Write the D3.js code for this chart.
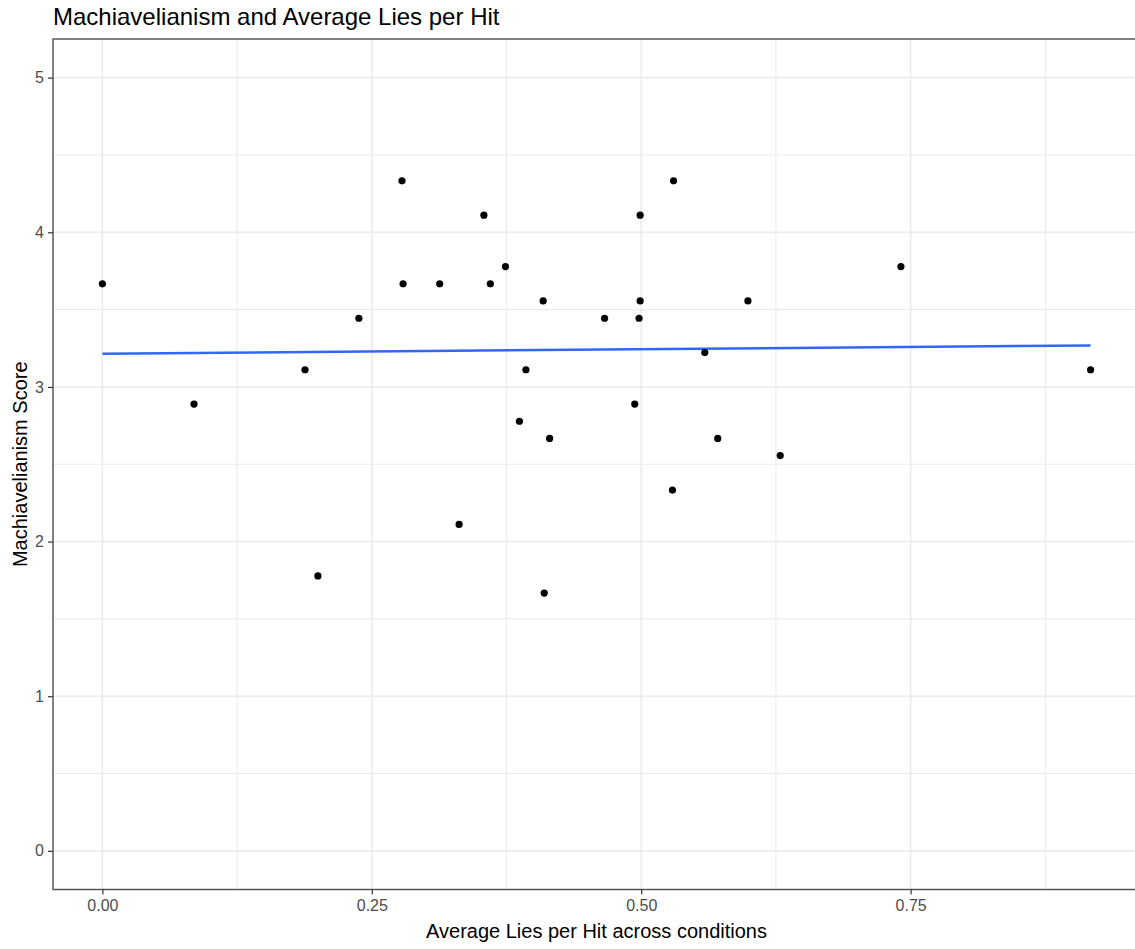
<!DOCTYPE html>
<html>
<head>
<meta charset="utf-8">
<script src="https://cdn.jsdelivr.net/npm/d3@7"></script>
<style>
  body { margin: 0; background: #fff; }
  svg { display: block; font-family: 'Liberation Sans', Arial, sans-serif; }
</style>
</head>
<body>
<svg id="chart" width="1135" height="949"></svg>
<script>
// average lies per hit (x) and Machiavelianism score (y), one entry per participant
var liesPerHit = [
  0.000, 0.085, 0.188, 0.200, 0.238, 0.278, 0.279, 0.313, 0.331, 0.354,
  0.360, 0.374, 0.387, 0.393, 0.409, 0.410, 0.415, 0.466, 0.494, 0.498,
  0.499, 0.499, 0.529, 0.530, 0.559, 0.571, 0.599, 0.629, 0.741, 0.917
]
var machScore = [
  3.667, 2.889, 3.111, 1.778, 3.444, 4.333, 3.667, 3.667, 2.111, 4.111,
  3.667, 3.778, 2.778, 3.111, 3.556, 1.667, 2.667, 3.444, 2.889, 3.444,
  3.556, 4.111, 2.333, 4.333, 3.222, 2.667, 3.556, 2.556, 3.778, 3.111
]

// linear fit (geom_smooth, method = lm)
var fitX = [0, 0.917]
var fitY = [3.215, 3.268]

var xTicks = [0, 0.25, 0.5, 0.75]
var xMinor = [0.125, 0.375, 0.625, 0.875]
var yTicks = [0, 1, 2, 3, 4, 5]
var yMinor = [0.5, 1.5, 2.5, 3.5, 4.5]

var points = liesPerHit.map((d, i) => ({ x: d, y: machScore[i] }))
var fit = fitX.map((d, i) => ({ x: d, y: fitY[i] }))

var panel = { left: 53, right: 1140, top: 39, bottom: 889.5 }

var svg = d3.select('#chart')

var xExt = d3.extent(liesPerHit)
var xPad = (xExt[1] - xExt[0]) * 0.05
var x = d3.scaleLinear()
    .domain([xExt[0] - xPad, xExt[1] + xPad])
    .range([panel.left, panel.right])

// y limits were set to 0..5, ggplot adds 5% on each side
var y = d3.scaleLinear()
    .domain([-0.25, 5.25])
    .range([panel.bottom, panel.top])

var grid = svg.append('g').attr('class', 'grid')

grid.selectAll('.minor-x')
    .data(xMinor)
  .enter().append('line')
    .attr('x1', d => x(d)).attr('x2', d => x(d))
    .attr('y1', panel.top).attr('y2', panel.bottom)
    .attr('stroke', '#ebebeb').attr('stroke-width', 1.1)

grid.selectAll('.minor-y')
    .data(yMinor)
  .enter().append('line')
    .attr('y1', d => y(d)).attr('y2', d => y(d))
    .attr('x1', panel.left).attr('x2', panel.right)
    .attr('stroke', '#ebebeb').attr('stroke-width', 1.1)

grid.selectAll('.major-x')
    .data(xTicks)
  .enter().append('line')
    .attr('x1', d => x(d)).attr('x2', d => x(d))
    .attr('y1', panel.top).attr('y2', panel.bottom)
    .attr('stroke', '#ebebeb').attr('stroke-width', 1.6)

grid.selectAll('.major-y')
    .data(yTicks)
  .enter().append('line')
    .attr('y1', d => y(d)).attr('y2', d => y(d))
    .attr('x1', panel.left).attr('x2', panel.right)
    .attr('stroke', '#ebebeb').attr('stroke-width', 1.6)

// smooth line
svg.append('path')
    .datum(fit)
    .attr('fill', 'none')
    .attr('stroke', '#3366ff')
    .attr('stroke-width', 2.5)
    .attr('d', d3.line().x(d => x(d.x)).y(d => y(d.y)))

svg.selectAll('.dot')
    .data(points)
  .enter().append('circle')
    .attr('class', 'dot')
    .attr('cx', d => x(d.x))
    .attr('cy', d => y(d.y))
    .attr('r', 3.6)
    .attr('fill', '#000')

// panel border
svg.append('rect')
    .attr('x', panel.left).attr('y', panel.top)
    .attr('width', panel.right - panel.left)
    .attr('height', panel.bottom - panel.top)
    .attr('fill', 'none')
    .attr('stroke', '#4d4d4d')
    .attr('stroke-width', 1.4)

var xAxis = d3.axisBottom(x)
    .tickValues(xTicks)
    .tickFormat(d3.format('.2f'))
    .tickSizeInner(5)
    .tickSizeOuter(0)
    .tickPadding(5)

var yAxis = d3.axisLeft(y)
    .tickValues(yTicks)
    .tickFormat(d3.format('d'))
    .tickSizeInner(5)
    .tickSizeOuter(0)
    .tickPadding(4)

var gx = svg.append('g')
    .attr('transform', 'translate(0,' + panel.bottom + ')')
    .call(xAxis)
gx.select('.domain').remove()

var gy = svg.append('g')
    .attr('transform', 'translate(' + panel.left + ',0)')
    .call(yAxis)
gy.select('.domain').remove()

svg.selectAll('.tick line').attr('stroke', '#333').attr('stroke-width', 1.2)
svg.selectAll('.tick text')
    .attr('fill', '#4d4d4d')
    .style('font-size', '16px')
    .style('font-family', "'Liberation Sans', Arial, sans-serif")

svg.append('text')
    .attr('x', panel.left)
    .attr('y', 25)
    .attr('fill', '#000')
    .style('font-size', '24px')
    .text('Machiavelianism and Average Lies per Hit')

svg.append('text')
    .attr('x', (panel.left + panel.right) / 2)
    .attr('y', 938)
    .attr('text-anchor', 'middle')
    .attr('fill', '#000')
    .style('font-size', '20px')
    .text('Average Lies per Hit across conditions')

svg.append('text')
    .attr('transform', 'translate(27,' + (panel.top + panel.bottom) / 2 + ') rotate(-90)')
    .attr('text-anchor', 'middle')
    .attr('fill', '#000')
    .style('font-size', '20px')
    .text('Machiavelianism Score')
</script>
</body>
</html>
